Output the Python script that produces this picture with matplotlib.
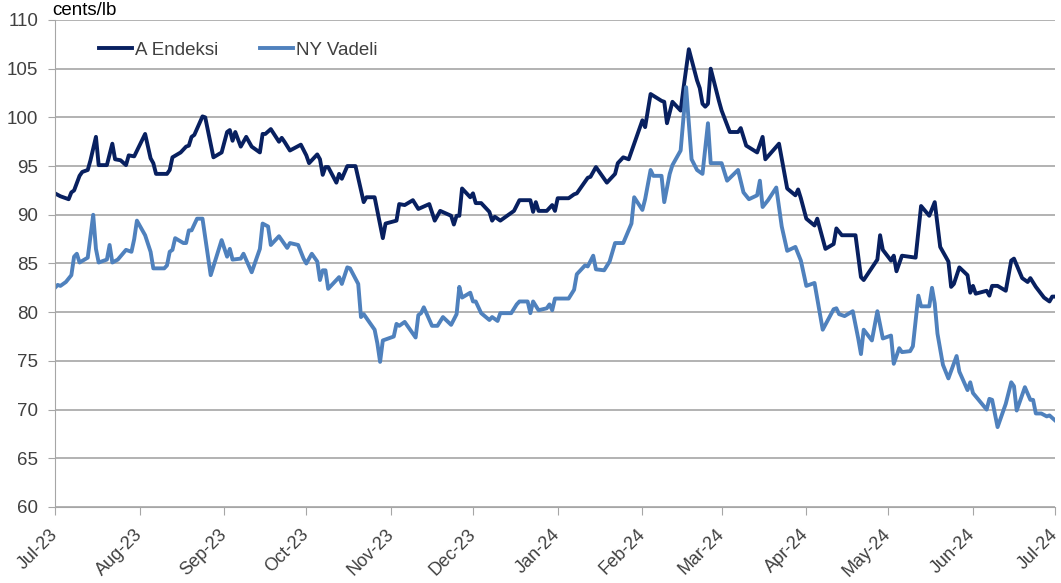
import matplotlib
matplotlib.use("Agg")
import matplotlib.pyplot as plt
import matplotlib.dates as mdates
import matplotlib.transforms as mtransforms
import pandas as pd

plt.rcParams['font.family'] = ['Liberation Sans', 'DejaVu Sans']

# days counted from 1 Jul 2023, values in cents/lb
start = pd.Timestamp("2023-07-01")

a_days = [0, 2, 5, 6, 7, 9, 10, 12, 13, 15, 16, 19, 21, 22, 24, 26, 27, 29, 33, 35,
          36, 37, 41, 42, 43, 46, 48, 49, 50, 51, 54, 55, 58, 61, 63, 64, 65, 66, 68, 70,
          72, 75, 76, 77, 79, 82, 83, 84, 86, 90, 92, 93, 96, 97, 98, 99, 100, 103, 104, 105,
          107, 110, 113, 114, 117, 120, 121, 125, 126, 128, 131, 133, 137, 139, 141, 145, 146, 147, 148, 149,
          152, 153, 154, 156, 159, 160, 161, 163, 168, 170, 174, 175, 176, 177, 180, 182, 183, 184, 188, 190,
          191, 195, 196, 198, 202, 205, 206, 208, 210, 212, 215, 216, 218, 222, 223, 224, 226, 229, 230, 232,
          235, 236, 237, 238, 239, 240, 243, 244, 247, 250, 251, 253, 257, 259, 260, 265, 268, 271, 272, 273,
          275, 278, 279, 282, 285, 286, 288, 293, 295, 296, 301, 302, 303, 306, 307, 308, 310, 315, 317, 320,
          322, 324, 327, 328, 329, 331, 334, 335, 336, 337, 341, 342, 343, 345, 348, 350, 351, 354, 356, 357,
          359, 362, 364, 365, 366]
a_index = [92.2, 91.9, 91.6, 92.3, 92.5, 94.0, 94.4, 94.6, 95.6, 98.0, 95.1, 95.1, 97.3, 95.7, 95.6, 95.1, 96.1, 96.0, 98.3, 95.8,
           95.3, 94.2, 94.2, 94.6, 95.9, 96.4, 97.0, 97.1, 98.0, 98.2, 100.1, 100.0, 95.9, 96.4, 98.5, 98.7, 97.6, 98.5, 97.0, 98.0,
           97.0, 96.4, 98.3, 98.3, 98.8, 97.5, 97.9, 97.5, 96.6, 97.2, 96.1, 95.3, 96.2, 95.7, 94.1, 94.9, 94.9, 93.3, 94.2, 93.7,
           95.0, 95.0, 91.3, 91.8, 91.8, 87.6, 89.1, 89.4, 91.1, 91.0, 91.5, 90.6, 91.1, 89.4, 90.4, 89.9, 89.0, 89.9, 89.9, 92.7,
           91.8, 92.2, 91.2, 91.2, 90.3, 89.4, 89.8, 89.4, 90.4, 91.5, 91.5, 90.3, 91.3, 90.4, 90.4, 91.0, 90.4, 91.7, 91.7, 92.1,
           92.2, 93.8, 93.9, 94.9, 93.3, 94.2, 95.3, 95.9, 95.7, 97.3, 99.7, 99.0, 102.4, 101.7, 101.6, 99.4, 101.6, 100.7, 102.9, 107.0,
           103.8, 103.0, 101.4, 101.1, 101.4, 105.0, 101.7, 100.7, 98.5, 98.5, 98.9, 97.1, 96.4, 98.0, 95.7, 97.3, 92.7, 92.0, 92.6, 91.7,
           89.6, 88.9, 89.6, 86.5, 87.0, 88.6, 87.9, 87.9, 83.6, 83.3, 85.4, 87.9, 86.4, 85.3, 85.8, 84.2, 85.8, 85.6, 90.9, 89.9,
           91.3, 86.7, 85.2, 82.6, 82.9, 84.6, 83.8, 82.0, 82.7, 81.9, 82.2, 81.7, 82.7, 82.7, 82.2, 85.3, 85.5, 83.5, 83.1, 83.5,
           82.6, 81.5, 81.1, 81.6, 81.6]

ny_days = [0, 1, 2, 4, 6, 7, 8, 9, 12, 14, 15, 16, 19, 20, 21, 23, 26, 28, 29, 30,
           33, 35, 36, 40, 41, 42, 43, 44, 47, 48, 49, 50, 52, 54, 57, 61, 63, 64, 65, 68,
           69, 72, 75, 76, 78, 79, 82, 85, 86, 89, 91, 92, 94, 96, 97, 98, 99, 100, 104, 105,
           107, 108, 111, 112, 113, 117, 118, 119, 120, 124, 125, 126, 128, 132, 133, 134, 135, 138, 140, 142,
           145, 147, 148, 149, 152, 153, 154, 156, 159, 160, 162, 163, 167, 169, 170, 173, 174, 175, 177, 180,
           181, 182, 183, 188, 190, 191, 194, 195, 197, 198, 201, 203, 205, 208, 211, 212, 215, 216, 218, 219,
           222, 223, 225, 226, 229, 231, 233, 235, 237, 239, 240, 244, 246, 250, 252, 254, 257, 258, 259, 261,
           264, 266, 268, 271, 273, 275, 278, 281, 285, 286, 287, 289, 292, 294, 295, 296, 299, 301, 303, 306,
           307, 309, 310, 313, 314, 316, 317, 320, 321, 322, 323, 325, 327, 330, 331, 334, 335, 336, 341, 342,
           343, 345, 348, 350, 351, 352, 355, 357, 358, 359, 361, 363, 364, 366]
ny_futures = [82.5, 82.8, 82.7, 83.1, 83.8, 85.7, 86.0, 85.1, 85.6, 90.0, 86.5, 85.1, 85.4, 86.9, 85.1, 85.4, 86.4, 86.2, 87.5, 89.4,
              87.9, 86.2, 84.5, 84.5, 84.8, 86.2, 86.4, 87.6, 87.1, 87.1, 88.4, 88.4, 89.6, 89.6, 83.8, 87.4, 85.7, 86.5, 85.4, 85.5,
              86.0, 84.1, 86.5, 89.1, 88.8, 86.9, 87.8, 86.6, 87.1, 86.9, 85.5, 85.0, 86.0, 85.2, 83.3, 84.3, 84.3, 82.4, 83.6, 82.9,
              84.6, 84.5, 82.9, 79.5, 79.8, 78.2, 76.8, 74.9, 77.1, 77.5, 78.8, 78.6, 79.0, 77.4, 79.7, 79.9, 80.5, 78.6, 78.6, 79.5,
              78.7, 79.8, 82.6, 81.5, 82.0, 81.1, 81.1, 79.9, 79.2, 79.5, 79.1, 79.9, 79.9, 80.8, 81.1, 81.1, 79.9, 81.1, 80.2, 80.4,
              80.8, 80.2, 81.4, 81.4, 82.3, 83.9, 84.8, 84.7, 85.8, 84.4, 84.3, 85.2, 87.1, 87.1, 89.1, 91.8, 90.5, 91.6, 94.6, 94.0,
              94.0, 91.3, 94.2, 95.1, 96.6, 103.1, 95.7, 94.6, 94.2, 99.4, 95.3, 95.3, 93.5, 94.6, 92.3, 91.6, 92.0, 93.5, 90.8, 91.5,
              92.8, 88.8, 86.3, 86.7, 85.3, 82.7, 83.0, 78.2, 80.3, 80.4, 79.8, 79.6, 80.1, 77.3, 75.7, 78.2, 77.1, 80.1, 77.3, 77.6,
              74.7, 76.3, 75.9, 76.0, 76.5, 81.7, 80.6, 80.6, 82.5, 80.9, 77.8, 74.6, 73.2, 75.5, 73.9, 72.0, 72.8, 71.7, 70.0, 71.1,
              71.0, 68.2, 70.6, 72.8, 72.4, 69.9, 72.3, 71.0, 71.0, 69.6, 69.6, 69.3, 69.4, 68.9]

a_dates = start + pd.to_timedelta(a_days, unit="D")
ny_dates = start + pd.to_timedelta(ny_days, unit="D")

fig = plt.figure(figsize=(10.61, 5.83), dpi=100)
ax = fig.add_axes([0.0518, 0.1304, 0.9425, 0.8353])

ax.plot(a_dates, a_index, color="#082060", lw=2.8, label="A Endeksi", solid_joinstyle="round")
ax.plot(ny_dates, ny_futures, color="#4f81bd", lw=2.8, label="NY Vadeli", solid_joinstyle="round")

ax.set_ylim(60, 110)
ax.set_yticks(range(60, 111, 5))
ax.set_xlim(pd.Timestamp("2023-07-01"), pd.Timestamp("2024-07-01"))
ax.xaxis.set_major_locator(mdates.MonthLocator())
ax.xaxis.set_major_formatter(mdates.DateFormatter("%b-%y"))

ax.grid(axis="y", color="#a6a6a6", lw=1.2)
ax.set_axisbelow(True)
for s in ["top", "right"]:
    ax.spines[s].set_visible(False)
ax.spines["left"].set_color("#a6a6a6")
ax.spines["bottom"].set_color("#a6a6a6")
ax.tick_params(axis="y", length=5, color="#a6a6a6", labelsize=13.5, labelcolor="#404040", pad=7)
ax.tick_params(axis="x", length=6, color="#a6a6a6", labelsize=13, labelcolor="#404040", pad=2)
# move rotated date labels so they hang below the ticks like the original
shift = mtransforms.ScaledTranslation(3 / 100, -17 / 100, fig.dpi_scale_trans)
for lbl in ax.get_xticklabels():
    lbl.set_rotation(45)
    lbl.set_ha("right")
    lbl.set_va("baseline")
    lbl.set_rotation_mode("anchor")
    lbl.set_transform(lbl.get_transform() + shift)

fig.text(0.049, 0.997, "cents/lb", fontsize=13.5, color="#000000", va="top")

ax.legend(loc="upper left", bbox_to_anchor=(0.027, 0.99), ncol=2, frameon=False,
          fontsize=13.5, handlelength=1.75, handletextpad=0.2, columnspacing=2.2,
          labelcolor="#404040")

fig.savefig("out.png", dpi=100)
